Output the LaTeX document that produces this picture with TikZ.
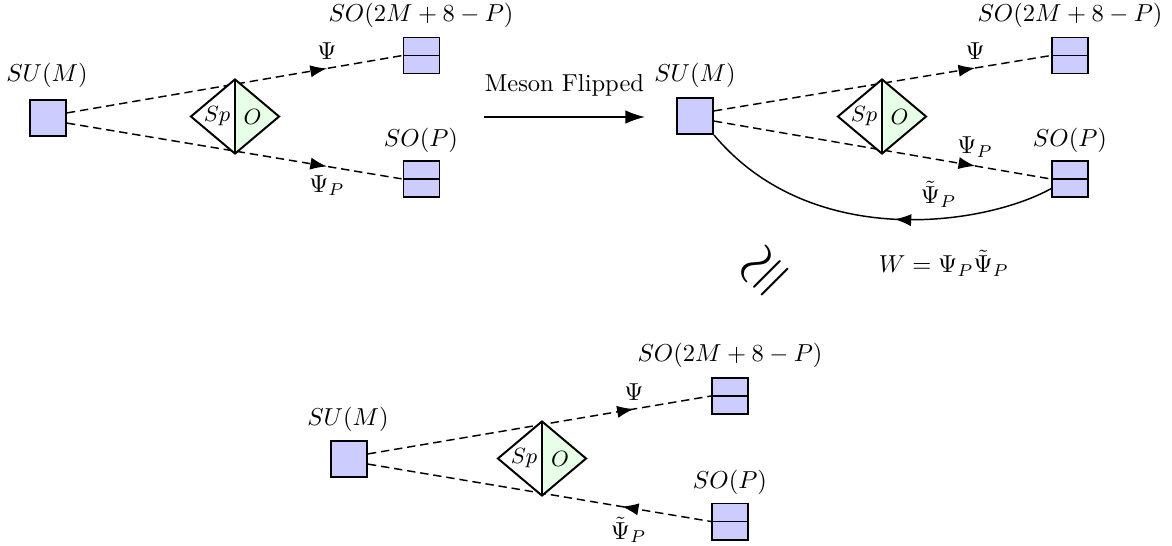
\documentclass[tikz,border=0pt]{standalone}
\usetikzlibrary{arrows.meta,decorations.markings,shapes.geometric}
\definecolor{boxblue}{RGB}{204,204,255}
\definecolor{softgreen}{RGB}{230,255,230}
\begin{document}
\begin{tikzpicture}[x=0.408pt,y=-0.408pt,
  qtip/.tip={Latex[length=6.8pt,width=5pt]},
  gbox/.style={draw, thick, fill=boxblue, minimum size=14.7pt, inner sep=0pt},
  sbox/.style={gbox, path picture={\draw[thick] (path picture bounding box.west) -- (path picture bounding box.east);}},
  quiv/.style={draw, thick, diamond, fill=white, minimum width=36.3pt, minimum height=30.6pt, inner sep=0pt,
    path picture={\fill[softgreen] (path picture bounding box.north) -- (path picture bounding box.east) -- (path picture bounding box.south) -- cycle;
      \draw[thick] (path picture bounding box.north) -- (path picture bounding box.south);}},
  grp/.style={font=\small},
  field/.style={semithick, dash pattern=on 3.4pt off 2pt, postaction={decorate},
    decoration={markings, mark=at position 0.775 with {\arrow{qtip}}}},
  fieldrev/.style={semithick, dash pattern=on 3.4pt off 2pt, postaction={decorate},
    decoration={markings, mark=at position 0.74 with {\arrowreversed{qtip}}}},
  flip/.style={semithick, postaction={decorate},
    decoration={markings, mark=at position 0.44 with {\arrow{qtip}}}}
]
\useasboundingbox (0,0) rectangle (1172,546);

% ---------- top-left ----------
\node[gbox] (su1) at (48,118) {};
\node[sbox] (t1) at (421.5,55.5) {};
\node[sbox] (p1) at (421.5,179) {};
\node (lsu1) at (47,75) {$SU(M)$};
\node (lt1) at (421,15) {$SO(2M+8-P)$};
\node (lp1) at (421,140) {$SO(P)$};
\draw[field] (su1.15) -- node[pos=0.775, above] {$\Psi$} (t1.west);
\draw[field] (su1.-15) -- node[pos=0.775, below] {$\Psi_P$} (p1.west);
\node[quiv] (d1) at (235,116.5) {};
\node[grp] (sp1) at (217,116.5) {$Sp$};
\node[grp] (o1) at (252.5,116.5) {$O$};

% ---------- arrow ----------
\coordinate (ma) at (484,117);
\coordinate (mb) at (645,117);
\draw[semithick,-{Latex[length=8pt,width=5.5pt]}] (ma) -- node[above=5pt] {Meson Flipped} (mb);

% ---------- top-right ----------
\node[gbox] (su2) at (695,116) {};
\node[sbox] (t2) at (1070,55.5) {};
\node[sbox] (p2) at (1070,179) {};
\node (lsu2) at (695,75) {$SU(M)$};
\node (lt2) at (1070,15) {$SO(2M+8-P)$};
\node (lp2) at (1070,140) {$SO(P)$};
\draw[field] (su2.15) -- node[pos=0.775, above] {$\Psi$} (t2.west);
\draw[field] (su2.-15) -- node[pos=0.775, above] {$\Psi_P$} (p2.west);
\node[quiv] (d2) at (882,116.5) {};
\node[grp] (sp2) at (864,116.5) {$Sp$};
\node[grp] (o2) at (899.5,116.5) {$O$};
\draw[flip] (p2.-153) .. controls +(-67,37) and +(97,116) .. node[pos=0.38, above=1pt] {$\tilde\Psi_P$} (su2.south east);
\node (w) at (944,263) {$W=\Psi_P\tilde\Psi_P$};

% ---------- isomorphism ----------
\node[rotate=45, font=\Huge] (iso) at (767,274) {$\cong$};

% ---------- bottom ----------
\node[gbox] (su3) at (349,459) {};
\node[sbox] (t3) at (730,396) {};
\node[sbox] (p3) at (730,521.5) {};
\node (lsu3) at (348,419) {$SU(M)$};
\node (lt3) at (730,355) {$SO(2M+8-P)$};
\node (lp3) at (730,482) {$SO(P)$};
\draw[field] (su3.15) -- node[pos=0.775, above] {$\Psi$} (t3.west);
\draw[fieldrev] (su3.-15) -- node[pos=0.76, below] {$\tilde\Psi_P$} (p3.west);
\node[quiv] (d3) at (542,458.5) {};
\node[grp] (sp3) at (524,458.5) {$Sp$};
\node[grp] (o3) at (560,458.5) {$O$};
\end{tikzpicture}
\end{document}
